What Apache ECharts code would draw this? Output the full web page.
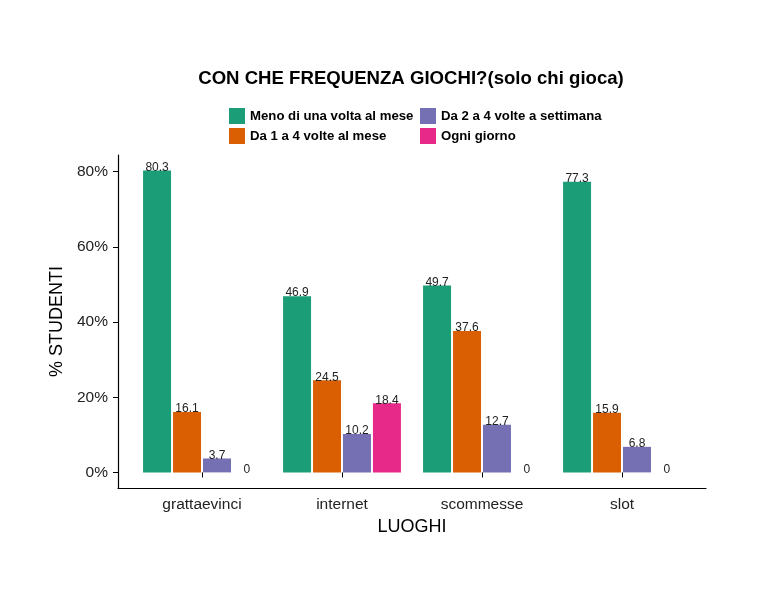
<!DOCTYPE html>
<html><head><meta charset="utf-8">
<script src="https://cdn.jsdelivr.net/npm/echarts@6/dist/echarts.min.js"></script>
<style>html,body{margin:0;padding:0;background:#fff}#c{width:768px;height:614px}</style>
</head><body><div id="c"></div>
<script>
const categories = ['grattaevinci', 'internet', 'scommesse', 'slot'];
const seriesNames = ['Meno di una volta al mese', 'Da 1 a 4 volte al mese', 'Da 2 a 4 volte a settimana', 'Ogni giorno'];
const menoDiUna = [80.3, 46.9, 49.7, 77.3];
const da1a4Mese = [16.1, 24.5, 37.6, 15.9];
const da2a4Sett = [3.7, 10.2, 12.7, 6.8];
const ogniGiorno = [0, 18.4, 0, 0];
const yTicks = [0, 20, 40, 60, 80];
const colors = ['#1B9E77', '#D95F02', '#7570B3', '#E7298A'];

const values = [menoDiUna, da1a4Mese, da2a4Sett, ogniGiorno];
const yMin = -4.15, yMax = 84.45;
const font = 'Liberation Sans, Arial, sans-serif';

const chart = echarts.init(document.getElementById('c'), null, {renderer: 'canvas'});
const series = values.map((v, i) => ({
  name: seriesNames[i],
  type: 'bar',
  xAxisIndex: 0, yAxisIndex: 0,
  data: v,
  barWidth: 28,
  barGap: '7%',
  itemStyle: {color: colors[i]},
  label: {show: true, position: 'top', distance: -3, fontSize: 12, color: '#222', fontFamily: font},
  emphasis: {disabled: true}
}));

const legendText = {fontSize: 13.2, fontWeight: 'bold', color: '#000', fontFamily: font};
chart.setOption({
  animation: false,
  title: {
    text: 'CON CHE FREQUENZA GIOCHI?(solo chi gioca)',
    left: 411, top: 69, textAlign: 'center', padding: 0,
    textStyle: {fontSize: 18.6, fontWeight: 'bold', color: '#000', fontFamily: font}
  },
  legend: [
    {data: [seriesNames[0], seriesNames[1]], orient: 'vertical', left: 229, top: 108, padding: 0,
     itemWidth: 16, itemHeight: 16, itemGap: 4, icon: 'rect', textStyle: legendText},
    {data: [seriesNames[2], seriesNames[3]], orient: 'vertical', left: 420, top: 108, padding: 0,
     itemWidth: 16, itemHeight: 16, itemGap: 4, icon: 'rect', textStyle: legendText}
  ],
  grid: [
    {left: 132, width: 560, top: 155, height: 333},
    {left: 118, width: 588, top: 155, height: 333}
  ],
  xAxis: [
    {type: 'category', gridIndex: 0, data: categories,
     axisLine: {show: false},
     axisTick: {show: true, alignWithLabel: true, length: 5, lineStyle: {color: '#000'}},
     axisLabel: {fontSize: 15.5, color: '#222', margin: 9, fontFamily: font},
     name: 'LUOGHI', nameLocation: 'middle', nameGap: 24,
     nameTextStyle: {fontSize: 18, color: '#000', fontFamily: font}},
    {type: 'value', gridIndex: 1, min: 0, max: 1,
     axisLine: {show: true, onZero: false, lineStyle: {color: '#000', width: 1.2}},
     axisTick: {show: false}, axisLabel: {show: false}, splitLine: {show: false}}
  ],
  yAxis: [
    {type: 'value', gridIndex: 0, min: yMin, max: yMax, show: false, splitLine: {show: false}},
    {type: 'value', gridIndex: 1, min: yMin, max: yMax,
     axisLine: {show: true, onZero: false, lineStyle: {color: '#000', width: 1.2}},
     axisTick: {show: true, length: 5, customValues: yTicks, lineStyle: {color: '#000'}},
     axisLabel: {customValues: yTicks, formatter: '{value}%', fontSize: 15.5, color: '#222', margin: 10, fontFamily: font},
     splitLine: {show: false},
     name: '% STUDENTI', nameLocation: 'middle', nameGap: 41, nameRotate: 90,
     nameTextStyle: {fontSize: 18, color: '#000', fontFamily: font}}
  ],
  series: series
});
</script></body></html>
